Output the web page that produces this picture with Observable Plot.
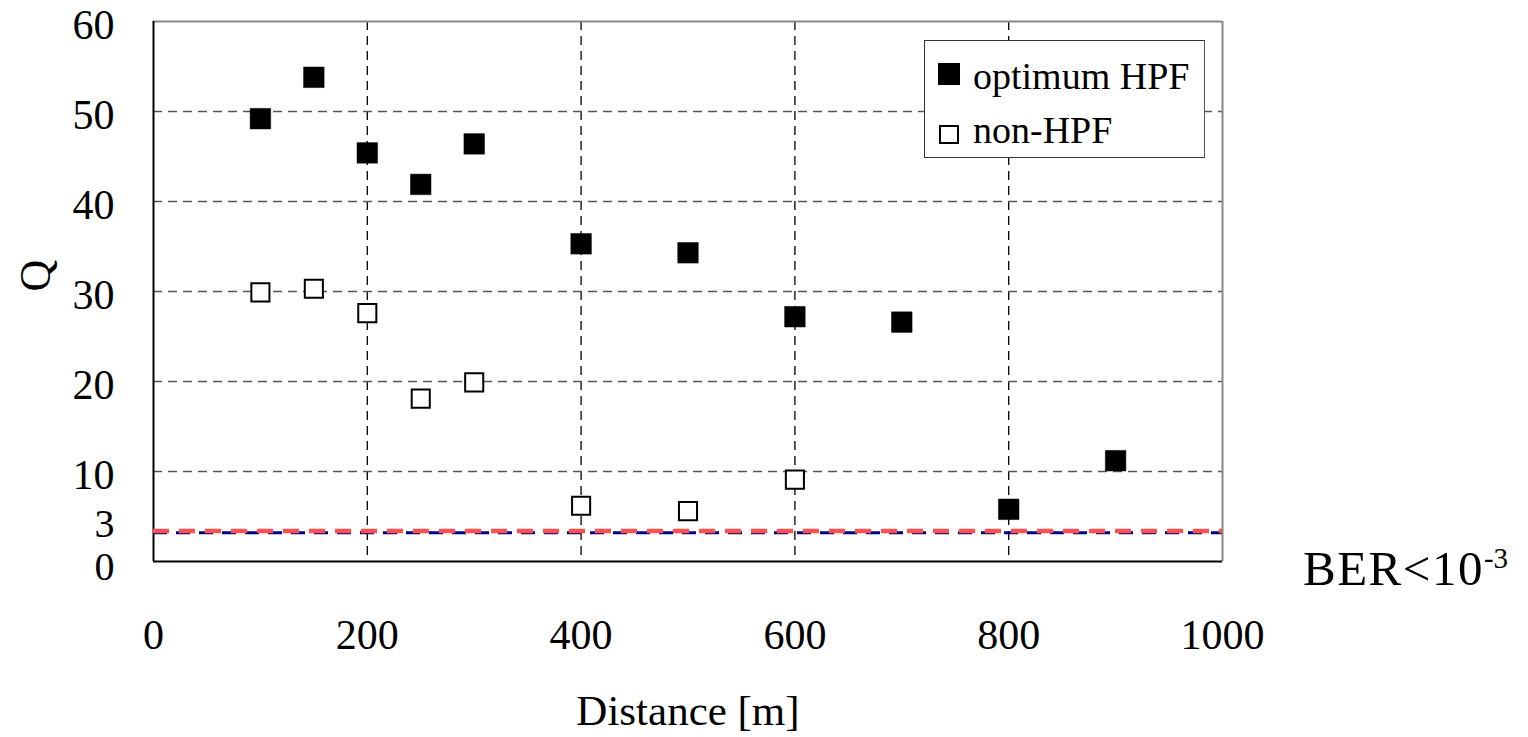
<!DOCTYPE html>
<html>
<head>
<meta charset="utf-8">
<script src="https://cdn.jsdelivr.net/npm/d3@7"></script>
<script src="https://cdn.jsdelivr.net/npm/@observablehq/plot@0.6"></script>
<style>
  body { margin: 0; background: #fff; }
  #wrap { position: relative; width: 1528px; height: 737px; font-family: "Liberation Serif", "Times New Roman", serif; }
  #legend { position: absolute; left: 924px; top: 40px; width: 281px; height: 118px; border: 1.5px solid #333; border-right-color: #555; background: #fff; box-sizing: border-box; }
  .item { position: absolute; left: 0; font-size: 38px; line-height: 1; white-space: nowrap; color: #000; }
  .sw { position: absolute; box-sizing: border-box; }
  #ber { position: absolute; left: 1303px; top: 544px; font-size: 49px; line-height: 1; white-space: nowrap; letter-spacing: 1.5px; }
  #ber sup { font-size: 29px; vertical-align: 17px; letter-spacing: 0; }
</style>
</head>
<body>
<div id="wrap"></div>
<script>
// Data
const distances = [100, 150, 200, 250, 300, 400, 500, 600, 700, 800, 900];
const optimumHPF = [49.2, 53.8, 45.4, 41.9, 46.4, 35.3, 34.3, 27.2, 26.6, 5.8, 11.2];
const nonHPFDist = [100, 150, 200, 250, 300, 400, 500, 600];
const nonHPF = [29.9, 30.3, 27.6, 18.1, 19.9, 6.2, 5.6, 9.1];
const xTicks = [0, 200, 400, 600, 800, 1000];
const yTicksMain = [10, 20, 30, 40, 50, 60];
const yTickZero = [0];
const yTickBER = [3];
const xGrid = [200, 400, 600, 800];
const yGrid = [10, 20, 30, 40, 50];
const berRedLevel = [3.4];
const berNavyLevel = [3.2];

const optData = distances.map((d, i) => ({x: d, q: optimumHPF[i]}));
const nonData = nonHPFDist.map((d, i) => ({x: d, q: nonHPF[i]}));

const font = "Liberation Serif, Times New Roman, serif";

const chart = Plot.plot({
  width: 1528,
  height: 737,
  marginLeft: 153,
  marginRight: 306,
  marginTop: 21,
  marginBottom: 176,
  style: {fontFamily: font, background: "#fff", color: "#000"},
  x: {domain: [0, 1000]},
  y: {domain: [0, 60]},
  marks: [
    Plot.ruleX(xGrid, {stroke: "#000", strokeWidth: 1.3, strokeDasharray: "9,6"}),
    Plot.ruleY(yGrid, {stroke: "#555", strokeWidth: 1.3, strokeDasharray: "9,6"}),
    Plot.ruleX([1000], {stroke: "#888", strokeWidth: 2}),
    Plot.ruleY([60], {stroke: "#888", strokeWidth: 2}),
    Plot.ruleX([0], {stroke: "#000", strokeWidth: 2}),
    Plot.ruleY([0], {stroke: "#000", strokeWidth: 2}),
    Plot.ruleY(berNavyLevel, {stroke: "#000080", strokeWidth: 3, strokeDasharray: "14,9"}),
    Plot.ruleY(berRedLevel, {stroke: "#ff5050", strokeWidth: 4.5, strokeDasharray: "16,10"}),
    Plot.dot(nonData, {x: "x", y: "q", symbol: "square", r: 10.2, fill: "#fff", stroke: "#000", strokeWidth: 2}),
    Plot.dot(optData, {x: "x", y: "q", symbol: "square", r: 11.6, fill: "#000", stroke: "#000", strokeWidth: 0.5}),
    Plot.axisX({ticks: xTicks, tickFormat: d3.format("d"), tickSize: 0, tickPadding: 58, fontSize: 42, label: null}),
    Plot.axisY({ticks: yTicksMain, tickFormat: d3.format("d"), tickSize: 0, tickPadding: 39, fontSize: 42, dy: 4, label: null}),
    Plot.axisY({ticks: yTickZero, tickFormat: d3.format("d"), tickSize: 0, tickPadding: 39, fontSize: 40, dy: 6, label: null}),
    Plot.axisY({ticks: yTickBER, tickFormat: d3.format("d"), tickSize: 0, tickPadding: 39, fontSize: 40, dy: -10, label: null}),
    Plot.text(["Distance [m]"], {frameAnchor: "bottom", dy: 150, fontSize: 43, lineAnchor: "middle"}),
    Plot.text(["Q"], {frameAnchor: "left", dx: -118, rotate: -90, fontSize: 44, lineAnchor: "middle"})
  ]
});

const wrap = document.getElementById("wrap");
wrap.appendChild(chart);

// Legend overlay
const legend = document.createElement("div");
legend.id = "legend";
legend.innerHTML = `
  <div class="sw" style="left:13px;top:22px;width:22px;height:22px;background:#000;"></div>
  <div class="item" style="left:48px;top:16px;">optimum HPF</div>
  <div class="sw" style="left:14px;top:84px;width:20px;height:19px;border:2px solid #000;background:#fff;"></div>
  <div class="item" style="left:48px;top:70px;">non-HPF</div>`;
wrap.appendChild(legend);

const ber = document.createElement("div");
ber.id = "ber";
ber.innerHTML = "BER&lt;10<sup>-3</sup>";
wrap.appendChild(ber);
</script>
</body>
</html>
